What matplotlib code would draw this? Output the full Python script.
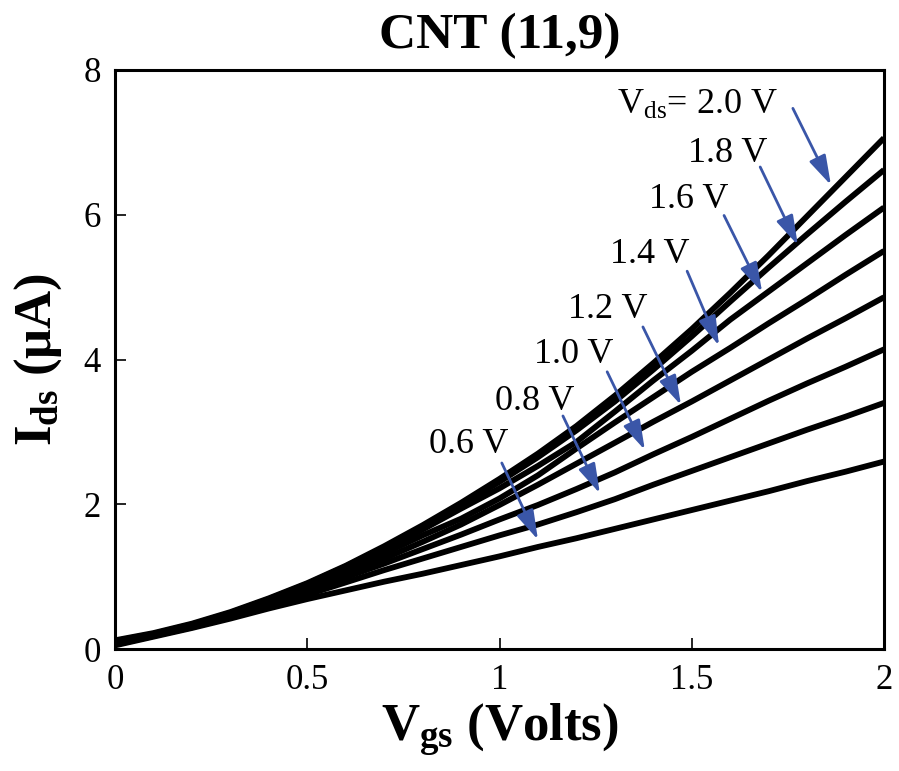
import matplotlib
matplotlib.use("Agg")
import matplotlib.pyplot as plt

plt.rcParams['font.family'] = ['Liberation Serif', 'DejaVu Serif']
plt.rcParams['mathtext.fontset'] = 'custom'
plt.rcParams['mathtext.rm'] = 'Liberation Serif'
plt.rcParams['mathtext.it'] = 'Liberation Serif:italic'
plt.rcParams['mathtext.bf'] = 'Liberation Serif:bold'

# ---- data ----
vgs = [0.0, 0.1, 0.2, 0.3, 0.4, 0.5, 0.6, 0.7, 0.8, 0.9, 1.0,
       1.1, 1.2, 1.3, 1.4, 1.5, 1.6, 1.7, 1.8, 1.9, 2.0]

ids_06 = [0.05, 0.17, 0.29, 0.42, 0.56, 0.69, 0.81, 0.93, 1.04, 1.16, 1.28,
          1.41, 1.53, 1.66, 1.79, 1.92, 2.05, 2.18, 2.32, 2.45, 2.59]
ids_08 = [0.06, 0.18, 0.30, 0.44, 0.59, 0.75, 0.92, 1.09, 1.25, 1.41, 1.57,
          1.72, 1.89, 2.07, 2.27, 2.46, 2.65, 2.84, 3.03, 3.21, 3.40]
ids_10 = [0.07, 0.19, 0.31, 0.46, 0.62, 0.81, 0.99, 1.18, 1.38, 1.58, 1.79,
          1.99, 2.21, 2.44, 2.69, 2.93, 3.18, 3.43, 3.67, 3.90, 4.14]
ids_12 = [0.08, 0.19, 0.32, 0.48, 0.66, 0.85, 1.04, 1.25, 1.48, 1.72, 1.99,
          2.27, 2.56, 2.85, 3.14, 3.42, 3.71, 4.00, 4.29, 4.57, 4.86]
ids_14 = [0.09, 0.19, 0.32, 0.48, 0.66, 0.86, 1.08, 1.32, 1.57, 1.80, 2.08,
          2.40, 2.77, 3.13, 3.48, 3.83, 4.16, 4.50, 4.83, 5.17, 5.50]
ids_16 = [0.10, 0.20, 0.33, 0.49, 0.67, 0.88, 1.11, 1.37, 1.65, 1.94, 2.22,
          2.53, 2.86, 3.28, 3.71, 4.12, 4.55, 4.94, 5.33, 5.72, 6.10]
ids_18 = [0.11, 0.21, 0.34, 0.50, 0.69, 0.90, 1.14, 1.40, 1.69, 1.99, 2.31,
          2.65, 3.02, 3.42, 3.86, 4.32, 4.80, 5.27, 5.73, 6.18, 6.62]
ids_20 = [0.12, 0.22, 0.35, 0.51, 0.70, 0.91, 1.15, 1.42, 1.71, 2.02, 2.35,
          2.70, 3.08, 3.50, 3.95, 4.42, 4.92, 5.44, 5.98, 6.52, 7.06]

series = [ids_06, ids_08, ids_10, ids_12, ids_14, ids_16, ids_18, ids_20]
labels = ['0.6 V', '0.8 V', '1.0 V', '1.2 V', '1.4 V', '1.6 V', '1.8 V',
          r'V$_{\mathrm{ds}}$= 2.0 V']

# annotation layout (data coordinates)
label_xy = [(1.022, 2.71), (1.196, 3.30), (1.295, 3.95), (1.386, 4.57),
            (1.495, 5.33), (1.594, 6.09), (1.696, 6.73), (1.724, 7.40)]
arrow_tail = [(1.006, 2.57), (1.165, 3.22), (1.280, 3.83), (1.373, 4.45),
              (1.488, 5.22), (1.584, 5.99), (1.678, 6.66), (1.763, 7.47)]
arrow_tip = [(1.100, 1.51), (1.261, 2.15), (1.378, 2.75), (1.472, 3.37),
             (1.571, 4.19), (1.683, 4.93), (1.776, 5.58), (1.862, 6.41)]

xticks = [0, 0.5, 1, 1.5, 2]
xticklabels = ['0', '0.5', '1', '1.5', '2']
yticks = [0, 2, 4, 6, 8]

fig = plt.figure(figsize=(8.99, 7.71), dpi=100)
ax = fig.add_axes([115/899, 1-649/771, (884-115)/899, (649-70)/771])

for ys in series:
    ax.plot(vgs, ys, color='black', lw=4.2, solid_capstyle='butt', clip_on=True)

arrow_color = '#3A56A8'
for lab, lxy, tail, tip in zip(labels, label_xy, arrow_tail, arrow_tip):
    ax.text(lxy[0], lxy[1], lab, ha='right', va='baseline', fontsize=26)
    ax.annotate('', xy=tip, xytext=tail,
                arrowprops=dict(arrowstyle='-|>,head_length=0.6,head_width=0.18',
                                color=arrow_color, lw=2.0,
                                mutation_scale=30, shrinkA=0, shrinkB=0))

ax.set_xlim(0, 2)
ax.set_ylim(0, 8)
ax.set_xticks(xticks)
ax.set_xticklabels(xticklabels)
ax.set_yticks(yticks)
ax.tick_params(direction='in', length=8, width=1.2, labelsize=25)
ax.tick_params(axis='x', pad=11)
ax.tick_params(axis='y', pad=10)
for s in ax.spines.values():
    s.set_linewidth(2.2)

ax.set_xlabel(r'V$_{\mathbf{gs}}$ (Volts)', fontsize=38, fontweight='bold', va='center')
ax.xaxis.set_label_coords(0.5, -0.14)
ax.set_ylabel(r'I$_{\mathbf{ds}}$ (μA)', fontsize=38, fontweight='bold', va='center')
ax.yaxis.set_label_coords(-0.10, 0.5)
ax.set_title('CNT (11,9)', fontsize=37, fontweight='bold', y=1.045, va='center')

fig.savefig('out.png', dpi=100)
